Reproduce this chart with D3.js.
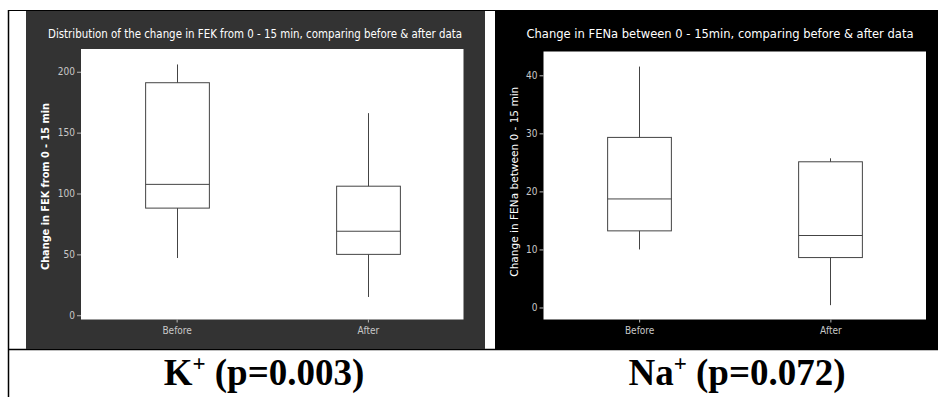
<!DOCTYPE html>
<html><head><meta charset="utf-8">
<script src="https://cdn.jsdelivr.net/npm/d3@7"></script>
<style>body{margin:0;background:#fff}svg{display:block}</style>
</head><body>
<svg id="c" width="938" height="397"></svg>
<script>
// ---- data ----
const categories = ["Before", "After"];
// FEK change (K+)
const kMin    = [47, 15];
const kQ1     = [88, 50];
const kMedian = [107.5, 69];
const kQ3     = [191, 106];
const kMax    = [206, 166];
const kTicks  = [0, 50, 100, 150, 200];
// FENa change (Na+)
const naMin    = [10.0, 0.4];
const naQ1     = [13.2, 8.6];
const naMedian = [18.7, 12.4];
const naQ3     = [29.3, 25.1];
const naMax    = [41.5, 25.7];
const naTicks  = [0, 10, 20, 30, 40];

const titles = ["Distribution of the change in FEK from 0 - 15 min, comparing before & after data",
                "Change in FENa between 0 - 15min, comparing before & after data"];
const yTitles = ["Change in FEK from 0 - 15 min", "Change in FENa between 0 - 15 min"];
const captions = [{main:"K", sup:"+", rest:" (p=0.003)"}, {main:"Na", sup:"+", rest:" (p=0.072)"}];

const svg = d3.select("#c");
const FONT = "'DejaVu Sans Condensed','DejaVu Sans',sans-serif";

// table borders
svg.append("line").attr("x1",8.5).attr("x2",8.5).attr("y1",10).attr("y2",397).attr("stroke","#000").attr("stroke-width",1.5);
svg.append("line").attr("x1",8).attr("x2",938).attr("y1",10.5).attr("y2",10.5).attr("stroke","#000").attr("stroke-width",1);
svg.append("line").attr("x1",8).attr("x2",938).attr("y1",349.5).attr("y2",349.5).attr("stroke","#000").attr("stroke-width",1.5);

const panels = [
  {bg:"#333333", px:26, pw:459, plot:{l:81, r:463.5, t:49, b:319.5}, dom:[-3.5, 218.7],
   stats:{min:kMin,q1:kQ1,med:kMedian,q3:kQ3,max:kMax}, ticks:kTicks, titleX:255, titleLen:414,
   yTitleX:45, yTitleY:186.5, yTitleLen:167, yBold:true, capX:264},
  {bg:"#000000", px:495, pw:443, plot:{l:543.5, r:926, t:51.5, b:319.5}, dom:[-2.07, 44.1],
   stats:{min:naMin,q1:naQ1,med:naMedian,q3:naQ3,max:naMax}, ticks:naTicks, titleX:720, titleLen:387,
   yTitleX:513.5, yTitleY:181.7, yTitleLen:190, yBold:false, capX:737}
];

panels.forEach((p, i) => {
  const g = svg.append("g");
  g.append("rect").attr("x", p.px).attr("y", 11).attr("width", p.pw).attr("height", 338).attr("fill", p.bg);
  g.append("rect").attr("x", p.plot.l).attr("y", p.plot.t).attr("width", p.plot.r - p.plot.l)
    .attr("height", p.plot.b - p.plot.t).attr("fill", "#fff");

  const x = d3.scalePoint().domain(categories).range([p.plot.l, p.plot.r]).padding(0.5);
  const y = d3.scaleLinear().domain(p.dom).range([p.plot.b, p.plot.t]);

  // y axis
  const ya = g.append("g").attr("transform", `translate(${p.plot.l},0)`)
    .call(d3.axisLeft(y).tickValues(p.ticks).tickSize(4).tickPadding(2).tickFormat(d3.format("d")));
  ya.select(".domain").remove();
  ya.selectAll("line").attr("stroke", "#bbb");
  ya.selectAll("text").attr("fill", "#c8c8c8").style("font-family", FONT).style("font-size", "10px");

  // x axis
  const xa = g.append("g").attr("transform", `translate(0,${p.plot.b})`)
    .call(d3.axisBottom(x).tickSize(3).tickPadding(4));
  xa.select(".domain").remove();
  xa.selectAll("line").attr("stroke", "#bbb");
  xa.selectAll("text").attr("fill", "#c8c8c8").style("font-family", FONT).style("font-size", "10px");

  // boxes
  const bw = x.step() / 3;
  const s = p.stats;
  const bx = g.append("g").attr("stroke", "#444").attr("stroke-width", 1).attr("fill", "none");
  categories.forEach((c, k) => {
    const cx = Math.round(x(c)) + 0.5;
    bx.append("line").attr("x1", cx).attr("x2", cx).attr("y1", y(s.max[k])).attr("y2", y(s.q3[k]));
    bx.append("line").attr("x1", cx).attr("x2", cx).attr("y1", y(s.q1[k])).attr("y2", y(s.min[k]));
    bx.append("rect").attr("x", cx - bw / 2).attr("y", y(s.q3[k]))
      .attr("width", bw).attr("height", y(s.q1[k]) - y(s.q3[k]));
    bx.append("line").attr("x1", cx - bw / 2).attr("x2", cx + bw / 2)
      .attr("y1", y(s.med[k])).attr("y2", y(s.med[k]));
  });

  // title
  g.append("text").attr("x", p.titleX).attr("y", 38).attr("text-anchor", "middle")
    .attr("fill", "#fff").style("font-family", FONT).style("font-size", "11.5px")
    .attr("textLength", p.titleLen).attr("lengthAdjust", "spacingAndGlyphs")
    .text(titles[i]);

  // y title
  g.append("text").attr("transform", `translate(${p.yTitleX + 4},${p.yTitleY}) rotate(-90)`)
    .attr("text-anchor", "middle").attr("fill", "#fff")
    .style("font-family", FONT).style("font-size", "10.5px").style("font-weight", p.yBold ? "bold" : "normal")
    .attr("textLength", p.yTitleLen).attr("lengthAdjust", "spacingAndGlyphs")
    .text(yTitles[i]);

  // caption below
  const cap = captions[i];
  const t = svg.append("text").attr("x", p.capX).attr("y", 385).attr("text-anchor", "middle")
    .style("font-family", "'Liberation Serif','Times New Roman',serif").style("font-size", "37px")
    .style("font-weight", "bold").attr("fill", "#000");
  t.append("tspan").text(cap.main);
  t.append("tspan").attr("dy", -14).style("font-size", "23px").text(cap.sup);
  t.append("tspan").attr("dy", 14).text(cap.rest);
});
</script>
</body></html>
